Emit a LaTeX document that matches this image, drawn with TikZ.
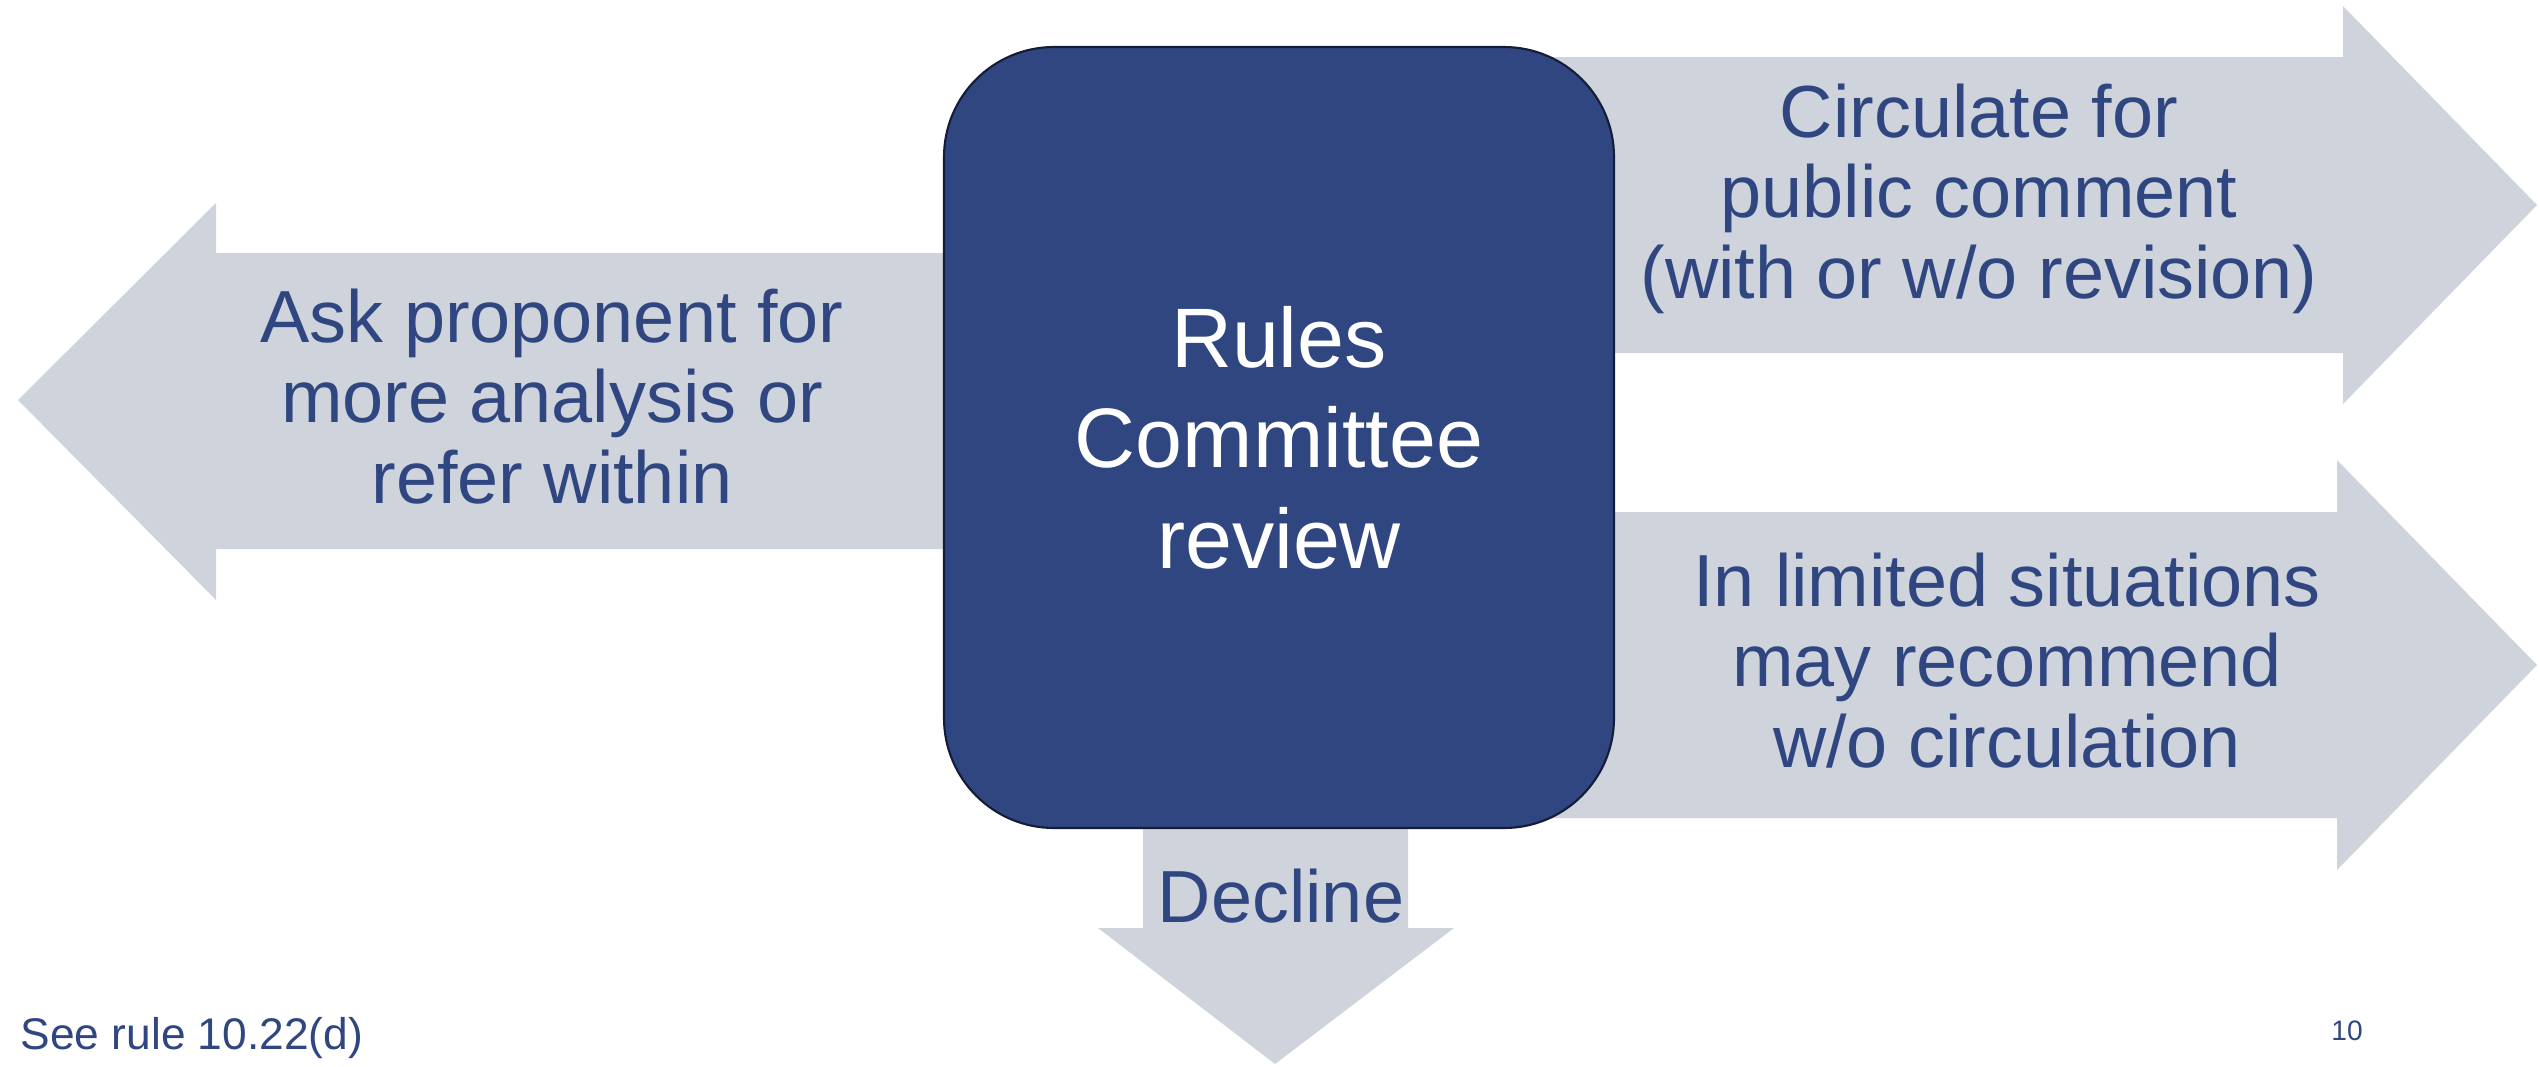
\documentclass[tikz,border=0pt]{standalone}
\usepackage{fontspec}
\setmainfont{Liberation Sans}
\usepackage{tikz}

\definecolor{rcblue}{RGB}{47,70,128}
\definecolor{rcgray}{RGB}{207,211,220}
\definecolor{rcedge}{RGB}{20,28,55}

\tikzset{
	blockarrow/.style={fill=rcgray},
	arrowtext/.style={text=rcblue, align=center, anchor=base, inner sep=0pt,
		font=\fontsize{21}{22.76}\selectfont},
	reviewbox/.style={fill=rcblue, draw=rcedge, line width=0.6pt, rounded corners=1.1cm}
}

\begin{document}
\begin{tikzpicture}[x=0.01cm, y=-0.01cm]
	\useasboundingbox (0,0) rectangle (2539,1066);

	\fill[blockarrow] (18,400) -- (216,203) -- (216,253) -- (960,253)
		-- (960,549) -- (216,549) -- (216,600) -- cycle;
	\fill[blockarrow] (1500,57) -- (2343,57) -- (2343,6) -- (2537,205)
		-- (2343,404) -- (2343,353) -- (1500,353) -- cycle;
	\fill[blockarrow] (1500,512) -- (2337,512) -- (2337,460) -- (2537,665)
		-- (2337,870) -- (2337,818) -- (1500,818) -- cycle;
	\fill[blockarrow] (1143,800) -- (1408,800) -- (1408,928) -- (1454,928)
		-- (1275,1064) -- (1098,928) -- (1143,928) -- cycle;

	\draw[reviewbox] (944,47) rectangle (1614,828);

	% multi-line nodes sit on the baseline of their last line
	\node[arrowtext, text=white, font=\fontsize{24}{28.45}\selectfont] (review) at (1279,568) {Rules\\Committee\\review};

	\node[arrowtext] (ask) at (552,503) {Ask proponent for\\more analysis or\\refer within};
	\node[arrowtext] (circulate) at (1979,298) {Circulate for\\public comment\\(with or w/o revision)};
	\node[arrowtext] (limited) at (2007,767) {In limited situations\\may recommend\\w/o circulation};
	\node[arrowtext] (decline) at (1281,922) {Decline};

	\node[arrowtext, anchor=base west, font=\fontsize{12.6}{15}\selectfont] (seerule) at (20,1049) {See rule 10.22(d)};
	\node[arrowtext, font=\fontsize{8}{10}\selectfont] (pagenum) at (2347,1040) {10};
\end{tikzpicture}
\end{document}
